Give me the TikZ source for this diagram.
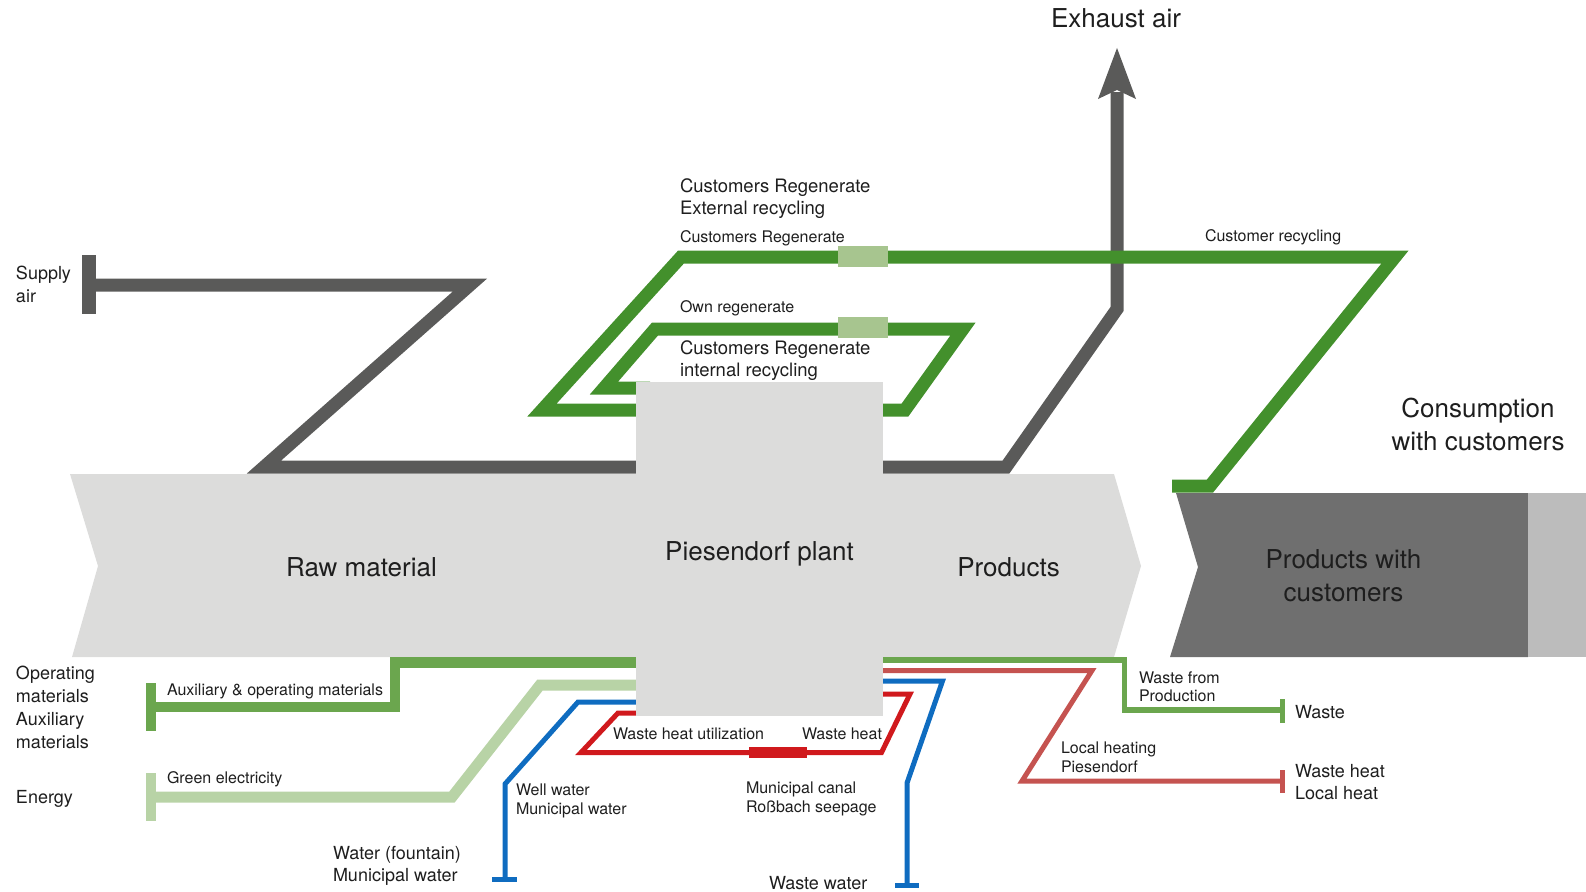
\documentclass[tikz,border=0pt]{standalone}
\usepackage{fontspec}
\setmainfont{TeX Gyre Heros}
\definecolor{cGray}{HTML}{5A5A59}
\definecolor{cBand}{HTML}{DCDCDB}
\definecolor{cDark}{HTML}{6F6F6F}
\definecolor{cLight}{HTML}{BCBCBC}
\definecolor{cGreen}{HTML}{43902C}
\definecolor{cPale}{HTML}{A7C58F}
\definecolor{cAux}{HTML}{6BA64E}
\definecolor{cEnergy}{HTML}{B8D3A6}
\definecolor{cBlue}{HTML}{0F6CC0}
\definecolor{cRed}{HTML}{D0191D}
\definecolor{cSalmon}{HTML}{C55350}
\definecolor{cText}{HTML}{1E1E1E}
\tikzset{
  pipe/.style={draw=#1, line join=miter, line cap=butt},
  thickpipe/.style={pipe=#1, line width=13pt},
  thinpipe/.style={pipe=#1, line width=5pt},
  lbl/.style={inner sep=0pt, outer sep=0pt, text=cText, anchor=base west, align=left},
  sm/.style={lbl, font=\fontsize{16}{19}\selectfont},
  md/.style={lbl, font=\fontsize{18}{22.5}\selectfont},
  mdl/.style={lbl, font=\fontsize{18.5}{22}\selectfont},
  bg/.style={lbl, font=\fontsize{26}{32.5}\selectfont, anchor=base, align=center},
}
\begin{document}
\begin{tikzpicture}[x=1pt,y=-1pt]
\useasboundingbox (0,0) rectangle (1586,891);

% main band and customer box
\fill[cBand] (70,474) -- (1114,474) -- (1141,566) -- (1114,657) -- (72,657) -- (98,566) -- cycle;
\fill[cDark] (1176,493) -- (1528,493) -- (1528,657) -- (1170,657) -- (1198,567) -- cycle;
\fill[cLight] (1528,493) rectangle (1586,657);

% air (gray)
\coordinate (supply) at (89,285);
\coordinate (exhaust) at (1117,92);
\draw[pipe=cGray, line width=14pt] (89,255) -- (89,314);
\draw[thickpipe=cGray] (supply) -- (470,285) -- (264,467) -- (1006,467) -- (1117,309) -- (exhaust);
\fill[cGray] (1117,48) -- (1136,99) -- (1117,90) -- (1098,99) -- cycle;

% recycling loops (green)
\draw[thickpipe=cGreen] (650,410) -- (542,410) -- (681,257) -- (1395,257) -- (1210,486) -- (1172,486);
\draw[thickpipe=cGreen] (650,388) -- (604,388) -- (655,329) -- (963,329) -- (905,410) -- (870,410);
\fill[cPale] (838,246) rectangle (888,267);
\fill[cPale] (838,317) rectangle (888,338);

% auxiliary materials
\draw[pipe=cAux, line width=10pt] (151,683) -- (151,731);
\draw[pipe=cAux, line width=10.5pt] (151,707) -- (395,707) -- (395,662.5) -- (650,662.5);

% energy
\draw[pipe=cEnergy, line width=10pt] (151,773) -- (151,821);
\draw[pipe=cEnergy, line width=11pt] (151,797) -- (452,797) -- (540,685) -- (650,685);

% well water
\draw[thinpipe=cBlue] (650,702) -- (578,702) -- (505,784) -- (505,879);
\draw[thinpipe=cBlue] (492,879) -- (517,879);

% waste heat loop
\draw[thinpipe=cRed] (650,713) -- (618,713) -- (581,752.5) -- (881.5,752.5) -- (910,694) -- (870,694);
\fill[cRed] (749,747) rectangle (807,757.5);

% waste water
\draw[thinpipe=cBlue] (870,681) -- (942.5,681) -- (907,783) -- (907,885.5);
\draw[thinpipe=cBlue] (895,885.5) -- (919,885.5);

% local heating
\draw[thinpipe=cSalmon] (870,670.5) -- (1092,670.5) -- (1022,781) -- (1282,781);
\draw[thinpipe=cSalmon] (1282.5,770) -- (1282.5,793);

% waste
\draw[pipe=cAux, line width=5.5pt] (870,660) -- (1124.5,660) -- (1124.5,710) -- (1282,710);
\draw[pipe=cAux, line width=5pt] (1282.5,699) -- (1282.5,723);

% plant
\node[fill=cBand, inner sep=0pt, minimum width=247pt, minimum height=334pt] (plant) at (759.5,549) {};

% labels (multi-line nodes: anchor at baseline of last line)
\node[md] (tSupply) at (16,302) {Supply\\air};
\node[bg] (tExhaust) at (1116,28) {Exhaust air};
\node[mdl] (tExt) at (680,214) {Customers Regenerate\\External recycling};
\node[sm] (tCR) at (680,242) {Customers Regenerate};
\node[sm] (tCust) at (1205,241) {Customer recycling};
\node[sm] (tOwn) at (680,312) {Own regenerate};
\node[mdl] (tInt) at (680,376) {Customers Regenerate\\internal recycling};
\node[bg] (tCons) at (1478,450) {Consumption\\with customers};
\node[bg] (tRaw) at (361.5,576) {Raw material};
\node[bg] (tPlant) at (759.5,560) {Piesendorf plant};
\node[bg] (tProd) at (1008.5,576) {Products};
\node[bg, font=\fontsize{26}{33}\selectfont] (tPwc) at (1343.5,601) {Products with\\customers};
\node[md, font=\fontsize{18}{22.7}\selectfont] (tOp) at (16,748) {Operating\\materials\\Auxiliary\\materials};
\node[sm] (tAux) at (167,695) {Auxiliary \& operating materials};
\node[sm] (tGreen) at (167,783) {Green electricity};
\node[md] (tEnergy) at (16,803) {Energy};
\node[md, font=\fontsize{18}{22}\selectfont] (tFount) at (333,881) {Water (fountain)\\Municipal water};
\node[sm] (tWell) at (516,814) {Well water\\Municipal water};
\node[sm] (tWhu) at (613,739) {Waste heat utilization};
\node[sm] (tWh) at (802,739) {Waste heat};
\node[sm] (tCanal) at (746,812) {Municipal canal\\Roßbach seepage};
\node[md] (tWw) at (769,889) {Waste water};
\node[sm, font=\fontsize{16}{18.5}\selectfont] (tWfp) at (1139,701.5) {Waste from\\Production};
\node[md] (tWaste) at (1295,718) {Waste};
\node[sm] (tLocal) at (1061,772) {Local heating\\Piesendorf};
\node[md, font=\fontsize{18}{22}\selectfont] (tWhl) at (1295,799) {Waste heat\\Local heat};
\end{tikzpicture}
\end{document}
